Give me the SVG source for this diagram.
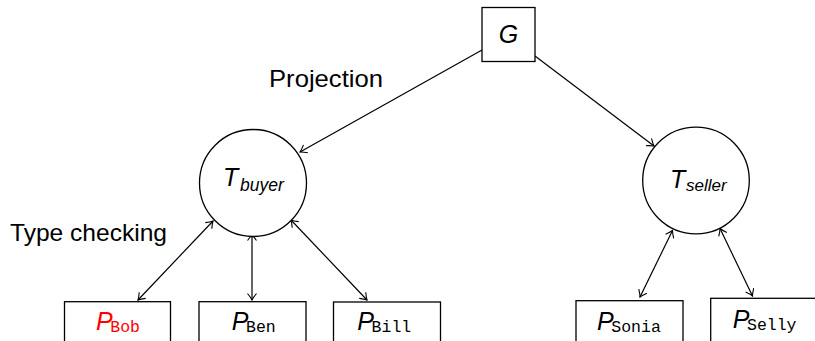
<svg xmlns="http://www.w3.org/2000/svg" width="815" height="341" viewBox="0 0 815 341">
<style>
.box{fill:#fff;stroke:#000;stroke-width:1.3}
.circ{fill:#fff;stroke:#000;stroke-width:1.3}
.edge{fill:none;stroke:#000;stroke-width:1.2}
.lbl{font-family:"Liberation Sans",Arial,sans-serif;font-size:24px;fill:#000}
.it{font-family:"Liberation Sans",Arial,sans-serif;font-style:italic;fill:#000}
.mono{font-family:"Liberation Mono","Courier New",monospace;font-size:16.5px}
</style>
<defs>
<marker id="ah" viewBox="-8 -5 10 10" refX="0" refY="0" markerWidth="10" markerHeight="10" markerUnits="userSpaceOnUse" orient="auto-start-reverse">
<path d="M -6.5 -4.5 Q -2.5 -1.2 0 0 Q -2.5 1.2 -6.5 4.5" fill="none" stroke="#000" stroke-width="1.1"/>
</marker>
</defs>
<rect width="815" height="341" fill="#fff"/>
<g id="connectors">
<line class="edge" x1="482" y1="50" x2="300" y2="152" marker-end="url(#ah)"/>
<line class="edge" x1="535" y1="56" x2="654" y2="146" marker-end="url(#ah)"/>
<line class="edge" x1="138" y1="300" x2="213" y2="221" marker-start="url(#ah)" marker-end="url(#ah)"/>
<line class="edge" x1="252" y1="300" x2="252" y2="234" marker-start="url(#ah)" marker-end="url(#ah)"/>
<line class="edge" x1="367" y1="300" x2="291" y2="220" marker-start="url(#ah)" marker-end="url(#ah)"/>
<line class="edge" x1="640" y1="297" x2="672.5" y2="230.5" marker-start="url(#ah)" marker-end="url(#ah)"/>
<line class="edge" x1="752.5" y1="296" x2="720" y2="228.5" marker-start="url(#ah)" marker-end="url(#ah)"/>
</g>
<g id="label-projection"><text class="lbl" x="269" y="87" textLength="114" lengthAdjust="spacingAndGlyphs">Projection</text></g>
<g id="label-typechecking"><text class="lbl" x="10" y="241" textLength="157" lengthAdjust="spacingAndGlyphs">Type checking</text></g>
<g id="G">
<rect class="box" x="482" y="7.5" width="53" height="54"/>
<text class="it" x="508.5" y="43" font-size="25" text-anchor="middle">G</text>
</g>
<g id="T_buyer">
<circle class="circ" cx="253" cy="183" r="53.5"/>
<text class="it" x="223" y="186" font-size="25">T</text>
<text class="it" x="240" y="190.5" font-size="17.5">buyer</text>
</g>
<g id="T_seller">
<circle class="circ" cx="696" cy="180.5" r="53.3"/>
<text class="it" x="670" y="187.7" font-size="25">T</text>
<text class="it" x="686" y="190.7" font-size="17">seller</text>
</g>
<g id="P_Bob">
<rect class="box" x="64.5" y="301.7" width="106" height="55"/>
<text class="it" x="96" y="330" font-size="25" fill="#ff0000" style="fill:#ff0000">P</text>
<text class="mono" x="110.3" y="332" fill="#ff0000">Bob</text>
</g>
<g id="P_Ben">
<rect class="box" x="199" y="301.7" width="107" height="55"/>
<text class="it" x="231.7" y="330" font-size="25">P</text>
<text class="mono" x="246" y="332">Ben</text>
</g>
<g id="P_Bill">
<rect class="box" x="333.5" y="302" width="107" height="55"/>
<text class="it" x="357.3" y="330" font-size="25">P</text>
<text class="mono" x="371.6" y="332">Bill</text>
</g>
<g id="P_Sonia">
<rect class="box" x="576" y="300.7" width="107" height="55"/>
<text class="it" x="597" y="330" font-size="25">P</text>
<text class="mono" x="611.3" y="332">Sonia</text>
</g>
<g id="P_Selly">
<rect class="box" x="710.7" y="298.3" width="107" height="55"/>
<text class="it" x="732.7" y="327.5" font-size="25">P</text>
<text class="mono" x="747" y="329.5">Selly</text>
</g>
</svg>
